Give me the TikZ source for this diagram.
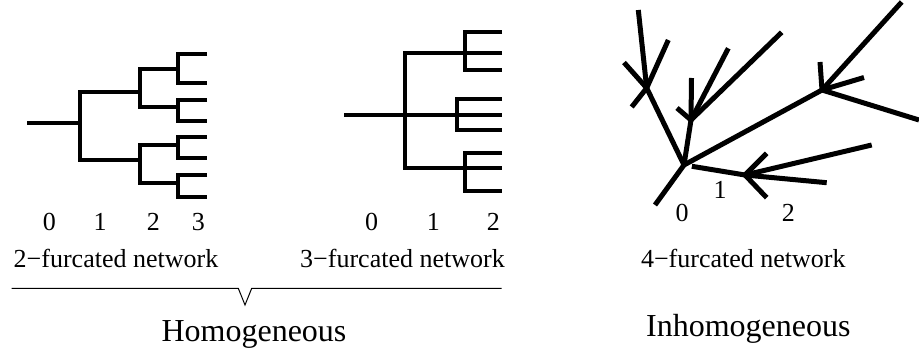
\documentclass[tikz,border=0pt]{standalone}
\usepackage{fontspec}
\setmainfont{Liberation Serif}
\begin{document}
\begin{tikzpicture}[x=1pt,y=-1pt,
  branch/.style={line width=4.6pt, line join=miter, line cap=butt},
  twig/.style={line width=5pt, line cap=butt},
  thinline/.style={line width=1pt, line join=miter},
  lab/.style={font=\fontsize{26}{30}\selectfont, anchor=base, inner sep=0pt},
  biglab/.style={font=\fontsize{32}{38}\selectfont, anchor=base, inner sep=0pt}]
\useasboundingbox (0,0) rectangle (919,353);

% ---------- 2-furcated network ----------
\coordinate (a0) at (27,123);
\coordinate (a1) at (80,123);
\coordinate (a2u) at (140,92);
\coordinate (a2d) at (140,160);
\coordinate (a3a) at (178,69);
\coordinate (a3b) at (178,107);
\coordinate (a3c) at (178,145);
\coordinate (a3d) at (178,183);
\foreach \i/\y in {1/54,2/83,3/100,4/121,5/137,6/158,7/175,8/197}
  \coordinate (al\i) at (207,\y);
\draw[branch] (a0) -- (a1);
\draw[branch] (a2u) -| (a1) |- (a2d);
\draw[branch] (a3a) -| (a2u) |- (a3b);
\draw[branch] (a3c) -| (a2d) |- (a3d);
\draw[branch] (al1) -| (a3a) |- (al2);
\draw[branch] (al3) -| (a3b) |- (al4);
\draw[branch] (al5) -| (a3c) |- (al6);
\draw[branch] (al7) -| (a3d) |- (al8);
\node[lab] (d20) at (49.3,230) {0};
\node[lab] (d21) at (100,230) {1};
\node[lab] (d22) at (153.3,230) {2};
\node[lab] (d23) at (198.3,230) {3};

% ---------- 3-furcated network ----------
\coordinate (b0) at (344,115);
\coordinate (b1) at (405,115);
\coordinate (b2a) at (465,53);
\coordinate (b2b) at (457,115);
\coordinate (b2c) at (465,168);
\foreach \i/\y in {1/32,2/53,3/70,4/99,5/115,6/130,7/153,8/168,9/191}
  \coordinate (bl\i) at (502,\y);
\draw[branch] (b0) -- (b1);
\draw[branch] (bl2) -| (b1) |- (bl8);
\draw[branch] (b1) -- (bl5);
\draw[branch] (bl1) -| (b2a) |- (bl3);
\draw[branch] (bl4) -| (b2b) |- (bl6);
\draw[branch] (bl7) -| (b2c) |- (bl9);
\node[lab] (d30) at (371.7,230) {0};
\node[lab] (d31) at (433.3,230) {1};
\node[lab] (d32) at (493.3,230) {2};

% ---------- 4-furcated network ----------
\coordinate (c0) at (684,165);
\coordinate (cr) at (655,205);
\coordinate (cA) at (646.7,88);
\coordinate (cB) at (691,120);
\coordinate (cD) at (822,90);
\coordinate (cN) at (745,175);
\draw[twig] (cr) -- (c0);
\draw[twig] (c0) -- (cA);
\draw[twig] (c0) -- (cB);
\draw[twig] (c0) -- (cD);
\draw[twig, shorten <=8pt] (c0) -- (cN);
% branch tips
\coordinate (cA1) at (638.3,10);
\coordinate (cA2) at (668.3,40);
\coordinate (cA3) at (624,62.5);
\coordinate (cA4) at (631.7,107);
\coordinate (cB1) at (691.5,78);
\coordinate (cB2) at (677,108);
\coordinate (cB3) at (728.3,48.3);
\coordinate (cB4) at (781.7,32.3);
\coordinate (cD1) at (901.7,2);
\coordinate (cD2) at (820,62);
\coordinate (cD3) at (864,77.5);
\coordinate (cD4) at (919,120);
\coordinate (cN1) at (766.7,153.3);
\coordinate (cN2) at (871.7,145);
\coordinate (cN3) at (826.7,182.7);
\coordinate (cN4) at (766.7,197.7);
\foreach \h in {A,B,D,N}
  \foreach \k in {1,2,3,4}
    \draw[twig] (c\h) -- (c\h\k);
\node[lab] (d40) at (682,221.7) {0};
\node[lab] (d41) at (720,198.3) {1};
\node[lab] (d42) at (788.3,221.7) {2};

% ---------- captions ----------
\node[lab] (t2) at (116,267.3) {2−furcated network};
\node[lab] (t3) at (402.5,267.3) {3−furcated network};
\node[lab] (t4) at (743.3,267.3) {4−furcated network};

\coordinate (g0) at (11.7,288.3);
\coordinate (g1) at (238.3,288.3);
\coordinate (g2) at (245,305);
\coordinate (g3) at (251.7,288.3);
\coordinate (g4) at (501.7,288.3);
\draw[thinline] (g0) -- (g1) -- (g2) -- (g3) -- (g4);

\node[biglab] (hom) at (254,341.7) {Homogeneous};
\node[biglab] (inh) at (748.3,336.7) {Inhomogeneous};
\end{tikzpicture}
\end{document}
